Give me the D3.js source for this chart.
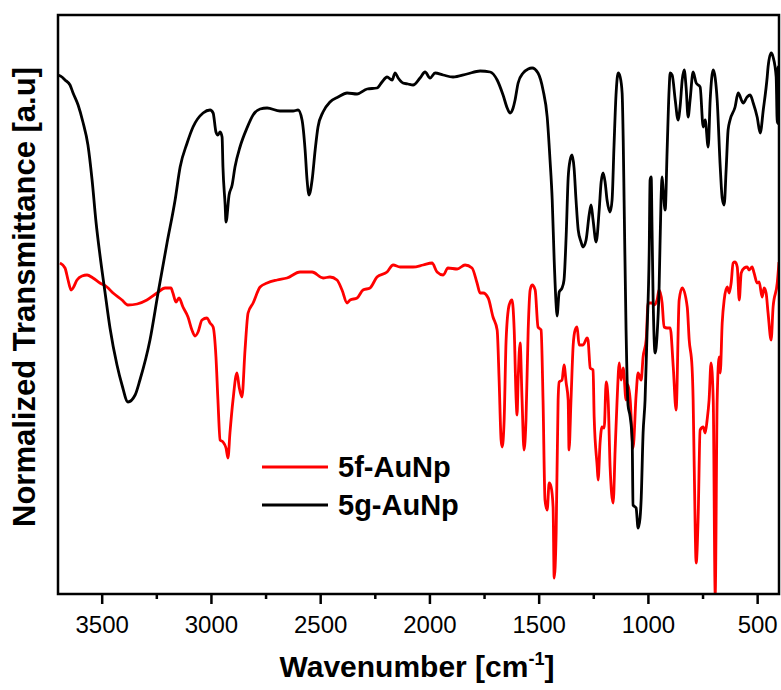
<!DOCTYPE html>
<html>
<head>
<meta charset="utf-8">
<script src="https://cdn.jsdelivr.net/npm/d3@7"></script>
<style>
  body { margin: 0; background: #ffffff; }
  svg { display: block; }
</style>
</head>
<body>
<div id="chart"></div>
<script>
var width = 781;
var height = 690;

// plot box
var boxLeft = 58, boxRight = 779, boxTop = 15, boxBottom = 594;

// wavenumber [cm-1] and normalized transmittance
var wn5g = [3700,3682,3668,3645,3631,3608,3586,3563,3544,3526,3508,3485,3462,3430,3407,3380,3347,3325,3279,3242,
  3201,3164,3141,3109,3082,3036,3004,2990,2977,2968,2958,2949,2945,2935,2931,2917,2903,2890,2867,2835,
  2807,2775,2743,2684,2624,2601,2583,2569,2560,2551,2537,2523,2510,2487,2455,2418,2377,2331,2285,2240,
  2217,2194,2171,2157,2143,2121,2098,2075,2043,2020,1997,1974,1937,1892,1828,1768,1722,1690,1663,1644,
  1631,1617,1608,1594,1571,1548,1530,1503,1480,1461,1448,1438,1429,1420,1416,1406,1393,1384,1374,1365,
  1356,1347,1338,1329,1319,1306,1297,1283,1269,1260,1251,1237,1223,1214,1205,1196,1187,1173,1164,1155,
  1146,1136,1127,1118,1113,1109,1100,1091,1081,1072,1068,1054,1045,1036,1031,1022,1013,1004,994,990,
  985,981,976,967,958,949,940,935,930,921,912,903,898,889,875,862,852,843,834,825,
  816,807,793,779,761,747,738,724,715,701,692,683,669,660,651,642,633,624,601,587,
  564,546,532,518,500,486,472,454,450,436,427,413,408,404,400];
var t5g = [1.038,1.034,1.028,1.018,1.002,0.978,0.944,0.898,0.828,0.744,0.678,0.604,0.532,0.458,0.418,0.384,0.398,0.428,0.508,0.602,
  0.702,0.788,0.854,0.902,0.934,0.962,0.968,0.962,0.924,0.918,0.924,0.914,0.854,0.778,0.744,0.798,0.818,0.854,0.894,0.932,
  0.958,0.970,0.972,0.966,0.966,0.968,0.948,0.888,0.828,0.798,0.828,0.888,0.934,0.964,0.984,0.994,1.002,1.000,1.010,1.012,
  1.024,1.034,1.028,1.042,1.032,1.022,1.020,1.018,1.032,1.044,1.032,1.042,1.038,1.034,1.040,1.046,1.044,1.028,0.998,0.972,
  0.962,0.972,0.988,1.022,1.042,1.050,1.052,1.042,1.008,0.954,0.868,0.788,0.668,0.578,0.556,0.604,0.612,0.628,0.718,0.832,
  0.868,0.878,0.852,0.788,0.728,0.704,0.694,0.708,0.758,0.778,0.748,0.704,0.768,0.824,0.842,0.824,0.788,0.764,0.788,0.898,
  0.998,1.042,1.034,1.002,0.908,0.788,0.528,0.378,0.354,0.308,0.178,0.172,0.132,0.152,0.188,0.322,0.388,0.522,0.688,0.828,
  0.834,0.728,0.588,0.482,0.518,0.608,0.788,0.834,0.808,0.768,0.888,1.008,1.042,1.038,0.988,0.948,0.978,1.028,1.048,1.012,
  0.954,0.988,1.044,1.022,1.014,0.934,0.948,0.894,0.988,1.048,1.032,0.988,0.854,0.792,0.778,0.848,0.928,0.948,0.974,1.002,
  0.982,0.994,0.998,0.982,0.954,0.922,0.968,1.034,1.054,1.082,1.074,1.034,0.942,1.054,0.938];

var wn5f = [3691,3668,3654,3640,3631,3613,3590,3567,3540,3508,3476,3448,3407,3380,3338,3293,3247,3210,3183,3174,
  3160,3146,3128,3105,3087,3073,3059,3041,3018,3004,2990,2977,2968,2958,2945,2931,2922,2913,2899,2881,
  2871,2858,2844,2830,2807,2775,2743,2697,2652,2592,2537,2487,2455,2423,2400,2377,2363,2331,2304,2272,
  2240,2194,2166,2134,2075,2029,1988,1965,1937,1915,1873,1837,1805,1782,1768,1754,1731,1709,1690,1681,
  1672,1667,1658,1649,1635,1622,1612,1603,1599,1594,1585,1576,1567,1558,1548,1539,1530,1516,1503,1489,
  1480,1471,1461,1452,1443,1434,1429,1420,1411,1406,1393,1384,1374,1365,1361,1352,1342,1333,1324,1315,
  1297,1278,1274,1264,1251,1246,1232,1228,1219,1210,1200,1191,1182,1173,1159,1150,1141,1131,1123,1113,
  1100,1091,1081,1068,1054,1045,1031,1022,1008,999,981,972,958,949,935,926,912,898,884,871,
  857,843,820,811,798,793,788,779,770,761,747,738,729,720,711,701,692,683,674,669,
  660,651,637,628,619,610,601,591,582,573,559,546,537,523,514,500,491,477,468,459,
  450,436,427,408,400];
var t5f = [0.662,0.652,0.628,0.608,0.612,0.628,0.636,0.638,0.632,0.622,0.614,0.602,0.588,0.578,0.580,0.588,0.602,0.612,0.612,0.602,
  0.584,0.592,0.574,0.554,0.528,0.516,0.524,0.548,0.552,0.542,0.534,0.474,0.388,0.308,0.304,0.292,0.272,0.322,0.388,0.442,
  0.414,0.394,0.488,0.562,0.582,0.614,0.622,0.628,0.632,0.644,0.644,0.632,0.634,0.628,0.608,0.582,0.588,0.592,0.608,0.612,
  0.634,0.644,0.658,0.654,0.654,0.658,0.662,0.644,0.638,0.652,0.650,0.658,0.652,0.622,0.602,0.602,0.592,0.554,0.528,0.428,
  0.308,0.294,0.348,0.508,0.578,0.588,0.528,0.388,0.358,0.428,0.502,0.388,0.288,0.348,0.528,0.608,0.618,0.608,0.534,0.528,
  0.388,0.188,0.168,0.222,0.214,0.174,0.032,0.122,0.388,0.424,0.428,0.458,0.422,0.388,0.288,0.388,0.498,0.528,0.534,0.498,
  0.498,0.512,0.508,0.452,0.448,0.354,0.254,0.228,0.302,0.334,0.332,0.424,0.388,0.254,0.182,0.288,0.388,0.462,0.428,0.452,
  0.388,0.418,0.388,0.292,0.398,0.442,0.428,0.474,0.508,0.582,0.582,0.578,0.588,0.608,0.582,0.534,0.532,0.532,0.454,0.368,
  0.588,0.612,0.574,0.508,0.454,0.388,0.254,0.062,0.154,0.328,0.334,0.322,0.348,0.388,0.462,0.388,0.000,0.388,0.474,0.442,
  0.542,0.588,0.614,0.602,0.622,0.662,0.664,0.654,0.588,0.642,0.652,0.654,0.648,0.654,0.642,0.622,0.624,0.594,0.612,0.602,
  0.562,0.508,0.574,0.622,0.664];

var majorTicks = [3500, 3000, 2500, 2000, 1500, 1000, 500];
var minorTicks = [3250, 2750, 2250, 1750, 1250, 750];

var seriesNames = ["5f-AuNp", "5g-AuNp"];
var seriesColors = ["#ff0000", "#000000"];

var svg = d3.select("#chart")
    .append("svg")
    .attr("width", width)
    .attr("height", height)
    .style("font-family", "'Liberation Sans', Arial, sans-serif");

var x = d3.scaleLinear()
    .domain([3700, 400])
    .range([boxLeft, boxRight]);

var y = d3.scaleLinear()
    .domain([0, 1.158])
    .range([boxBottom, boxTop]);

svg.append("clipPath")
    .attr("id", "box")
  .append("rect")
    .attr("x", boxLeft)
    .attr("y", boxTop)
    .attr("width", boxRight - boxLeft)
    .attr("height", boxBottom - boxTop);

var line = d3.line()
    .x(function(d) { return x(d[0]); })
    .y(function(d) { return y(d[1]); })
    .curve(d3.curveMonotoneX);

var data5f = wn5f.map(function(w, i) { return [w, t5f[i]]; });
var data5g = wn5g.map(function(w, i) { return [w, t5g[i]]; });

var plot = svg.append("g").attr("clip-path", "url(#box)");

plot.append("path")
    .datum(data5f)
    .attr("d", line)
    .attr("fill", "none")
    .attr("stroke", seriesColors[0])
    .attr("stroke-width", 2.8)
    .attr("stroke-linejoin", "round");

plot.append("path")
    .datum(data5g)
    .attr("d", line)
    .attr("fill", "none")
    .attr("stroke", seriesColors[1])
    .attr("stroke-width", 2.8)
    .attr("stroke-linejoin", "round");

// x axis with labelled and minor ticks
var xAxis = d3.axisBottom(x)
    .tickValues(majorTicks)
    .tickSize(10)
    .tickSizeOuter(0)
    .tickPadding(12)
    .tickFormat(d3.format("d"));

var gx = svg.append("g")
    .attr("transform", "translate(0," + boxBottom + ")")
    .call(xAxis);
gx.select(".domain").remove();
gx.selectAll(".tick line").attr("stroke", "#000").attr("stroke-width", 2.5);
gx.selectAll(".tick text")
    .attr("fill", "#000")
    .style("font-size", "24px")
    .style("font-family", "'Liberation Sans', Arial, sans-serif");

var gxMinor = svg.append("g")
    .attr("transform", "translate(0," + boxBottom + ")")
    .call(d3.axisBottom(x).tickValues(minorTicks).tickSize(5).tickSizeOuter(0).tickFormat(""));
gxMinor.select(".domain").remove();
gxMinor.selectAll(".tick line").attr("stroke", "#000").attr("stroke-width", 2.5);

// frame
svg.append("rect")
    .attr("x", boxLeft)
    .attr("y", boxTop)
    .attr("width", boxRight - boxLeft)
    .attr("height", boxBottom - boxTop)
    .attr("fill", "none")
    .attr("stroke", "#000")
    .attr("stroke-width", 2.5);

// axis titles
var xTitle = svg.append("text")
    .attr("x", 417)
    .attr("y", 677)
    .attr("text-anchor", "middle")
    .style("font-size", "30px")
    .style("font-weight", "bold");
xTitle.append("tspan").text("Wavenumber [cm");
xTitle.append("tspan").attr("dy", -12).style("font-size", "18px").text("-1");
xTitle.append("tspan").attr("dy", 12).text("]");

svg.append("text")
    .attr("transform", "translate(35,297) rotate(-90)")
    .attr("text-anchor", "middle")
    .style("font-size", "31px")
    .style("font-weight", "bold")
    .text("Normalized Transmittance [a.u]");

// legend
var legend = svg.append("g")
    .attr("transform", "translate(262,467)");

seriesNames.forEach(function(name, i) {
  legend.append("line")
      .attr("x1", 0)
      .attr("x2", 66)
      .attr("y1", i * 38)
      .attr("y2", i * 38)
      .attr("stroke", seriesColors[i])
      .attr("stroke-width", 2.8);
  legend.append("text")
      .attr("x", 76)
      .attr("y", i * 38)
      .attr("dy", "0.35em")
      .style("font-size", "29px")
      .style("font-weight", "bold")
      .text(name);
});
</script>
</body>
</html>
